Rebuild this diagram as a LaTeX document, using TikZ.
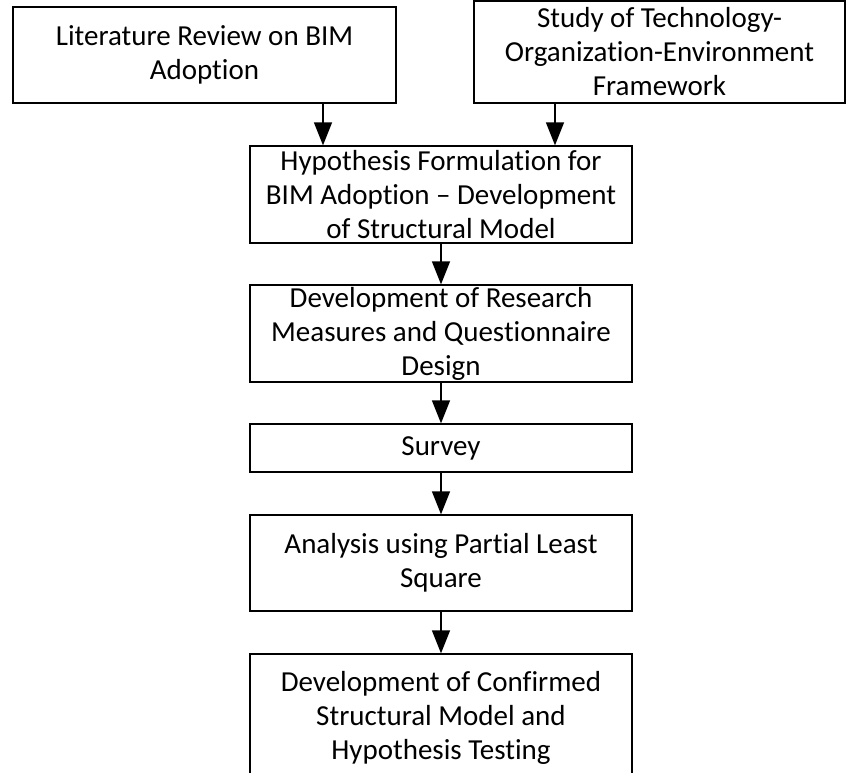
\documentclass[tikz,border=0pt]{standalone}
\usepackage{fontspec}
\setmainfont[Ligatures=NoCommon]{Carlito}
\usetikzlibrary{arrows.meta}
\begin{document}
\begin{tikzpicture}[x=1pt,y=-1pt,
  box/.style={draw,line width=1.3pt,inner sep=0pt,align=center,
    font=\fontsize{29}{34}\selectfont},
  arr/.style={line width=1.3pt,-{Triangle[width=18pt,length=23pt]}}]
\useasboundingbox (0,0) rectangle (847,772);
\clip (0,0) rectangle (847,772);
\node[box,minimum width=383pt,minimum height=96pt] (lit) at (204.5,55)
  {Literature Review on BIM\\Adoption};
\node[box,minimum width=371pt,minimum height=102pt] (toe) at (659.5,52)
  {Study of Technology-\\Organization-Environment\\Framework};
\node[box,minimum width=382pt,minimum height=97pt] (hyp) at (441,194.5)
  {Hypothesis Formulation for\\BIM Adoption -- Development\\of Structural Model};
\node[box,minimum width=382pt,minimum height=97pt] (dev) at (441,333.5)
  {Development of Research\\Measures and Questionnaire\\Design};
\node[box,minimum width=382pt,minimum height=48pt] (sur) at (441,448)
  {Survey};
\node[box,minimum width=382pt,minimum height=96pt] (ana) at (441,563)
  {Analysis using Partial Least\\Square};
\node[box,minimum width=382pt,minimum height=128pt] (con) at (441,718)
  {Development of Confirmed\\Structural Model and\\Hypothesis Testing};
\coordinate (c1) at (323,0);
\coordinate (c2) at (555,0);
\draw[arr] (lit.south -| c1) -- (hyp.north -| c1);
\draw[arr] (toe.south -| c2) -- (hyp.north -| c2);
\draw[arr] (hyp) -- (dev);
\draw[arr] (dev) -- (sur);
\draw[arr] (sur) -- (ana);
\draw[arr] (ana) -- (con);
\end{tikzpicture}
\end{document}
